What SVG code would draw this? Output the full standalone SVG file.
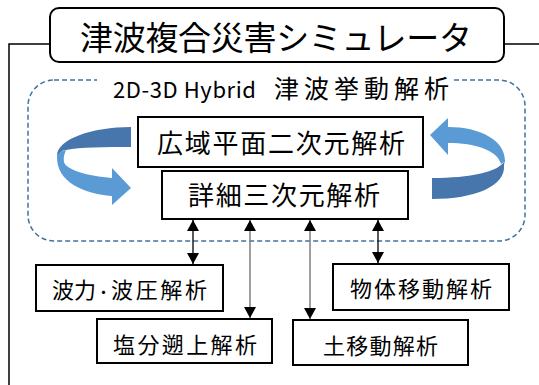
<svg xmlns="http://www.w3.org/2000/svg" width="539" height="385" viewBox="0 0 539 385">
<style>
.box{fill:#fff;stroke:#000;stroke-width:2}
.t{font-family:"Noto Sans CJK JP","Noto Sans",sans-serif;fill:#000}
.ln{fill:none;stroke:#000;stroke-width:1.5}
.dk{fill:#4676AC}
.lt{fill:#5B9BD5}
</style>
<defs>
<marker id="ah" markerWidth="12" markerHeight="12" refX="11" refY="6" orient="auto-start-reverse" markerUnits="userSpaceOnUse"><path d="M0,0 L11,6 L0,12 Z" fill="#000"/></marker>
</defs>
<rect width="539" height="385" fill="#fff"/>
<path class="ln" d="M50,44 H9 V385 M504,44 H539"/>
<g id="title"><rect class="box" x="50" y="8" width="454" height="54" rx="9"/>
<text class="t" x="80" y="50" font-size="33" textLength="392" lengthAdjust="spacing">津波複合災害シミュレータ</text></g>
<g id="hybrid">
<rect x="28" y="80" width="497" height="161" rx="26" fill="none" stroke="#41719C" stroke-width="1.5" stroke-dasharray="5,3"/>
<rect x="97" y="72" width="357" height="18" fill="#fff"/>
<text class="t" y="98" font-size="22"><tspan x="113" textLength="143" lengthAdjust="spacing">2D-3D Hybrid</tspan><tspan x="274" font-size="25" textLength="175" lengthAdjust="spacing">津波挙動解析</tspan></text>
</g>
<g id="cycle-left">
<path class="dk" d="M131,127 C92,127 57,139 57,156 C60,153 62,150 66,150 C80,147 105,147 131,147 Z"/>
<path class="lt" d="M57,156 C56,182 84,194 112,196 L112,205 L131,188 L112,168 L112,178 C88,176 66,170 64,162 C63,155 66,151 66,150 C62,151 58,153 57,156 Z"/>
</g>
<g id="cycle-right">
<path class="lt" d="M430,135 L448,118 L448,127 C480,127 505,140 505,161 L501,164 C497,150 475,143 448,143 L448,155 Z"/>
<path class="dk" d="M505,160 C500,172 470,178 432,178 L432,199 C475,199 506,186 504,165 Z"/>
</g>
<g id="box-2d"><rect class="box" x="138" y="117" width="285" height="50"/>
<text class="t" x="157" y="153" font-size="26" textLength="248" lengthAdjust="spacing">広域平面二次元解析</text></g>
<g id="box-3d"><rect class="box" x="162" y="171" width="246" height="48"/>
<text class="t" x="188" y="205" font-size="26" textLength="192" lengthAdjust="spacing">詳細三次元解析</text></g>
<g id="connectors">
<line x1="193" y1="220" x2="193" y2="264" stroke="#000" stroke-width="1.3" marker-start="url(#ah)" marker-end="url(#ah)"/>
<line x1="250" y1="220" x2="250" y2="318" stroke="#7f7f7f" stroke-width="1.5" marker-start="url(#ah)" marker-end="url(#ah)"/>
<line x1="310" y1="220" x2="310" y2="319" stroke="#7f7f7f" stroke-width="1.5" marker-start="url(#ah)" marker-end="url(#ah)"/>
<line x1="378" y1="220" x2="378" y2="263" stroke="#000" stroke-width="1.3" marker-start="url(#ah)" marker-end="url(#ah)"/>
</g>
<g id="box-wave"><rect class="box" x="36" y="265" width="187" height="46"/>
<text class="t" y="298" font-size="22"><tspan x="52" textLength="44" lengthAdjust="spacing">波力</tspan><tspan x="96" font-size="15">・</tspan><tspan x="111" textLength="96" lengthAdjust="spacing">波圧解析</tspan></text></g>
<g id="box-object"><rect class="box" x="333" y="264" width="176" height="46"/>
<text class="t" x="350" y="297" font-size="22" textLength="142" lengthAdjust="spacing">物体移動解析</text></g>
<g id="box-salt"><rect class="box" x="97" y="319" width="175" height="44"/>
<text class="t" x="113" y="353" font-size="22" textLength="144" lengthAdjust="spacing">塩分遡上解析</text></g>
<g id="box-soil"><rect class="box" x="293" y="320" width="175" height="45"/>
<text class="t" x="323" y="354" font-size="22" textLength="115" lengthAdjust="spacing">土移動解析</text></g>
</svg>
